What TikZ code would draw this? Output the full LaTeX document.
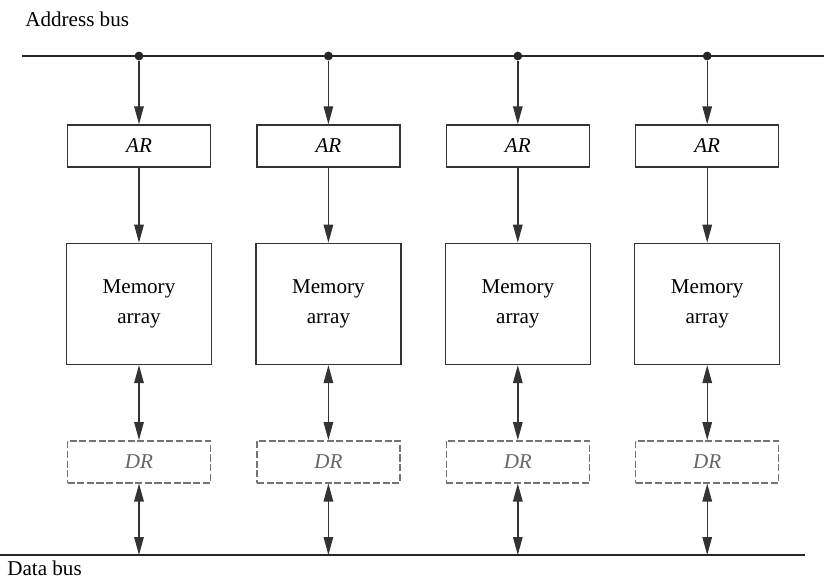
\documentclass[tikz,border=0pt]{standalone}
\usepackage{fontspec}
\setmainfont{Liberation Serif}
\usetikzlibrary{positioning,arrows.meta}

\begin{document}
\begin{tikzpicture}[
    font=\fontsize{12}{17}\selectfont,
    node distance=1.5cm and 0.9cm,
    regbox/.style={
        draw=black!80,
        line width=0.8pt,
        minimum width=2.86cm,
        minimum height=0.84cm,
        inner sep=0pt,
        font=\fontsize{12}{14}\selectfont\itshape
    },
    drbox/.style={
        regbox,
        draw=black!55,
        dash pattern=on 4pt off 1.5pt,
        text=black!60
    },
    membox/.style={
        draw=black!80,
        line width=0.8pt,
        align=center,
        minimum width=2.9cm,
        minimum height=2.42cm
    },
    junction/.style={circle, fill=black!85, inner sep=0pt, minimum size=5pt},
    arrow/.style={-{Triangle[length=3.6mm,width=1.9mm]}, line width=0.8pt, draw=black!80},
    darrow/.style={{Triangle[length=3.6mm,width=1.9mm]}-{Triangle[length=3.6mm,width=1.9mm]}, line width=0.8pt, draw=black!80},
    bus/.style={line width=1pt, draw=black!85}
]
\useasboundingbox (0,0) rectangle (16.48,-11.58);

\coordinate (abusW) at (0.44,-1.12);
\coordinate (abusE) at (16.48,-1.12);
\coordinate (dbusW) at (0,-11.1);
\coordinate (dbusE) at (16.1,-11.1);

\node[anchor=west, inner sep=0pt] (abuslabel) at (0.50,-0.38) {Address bus};
\node[anchor=west, inner sep=0pt] (dbuslabel) at (0.14,-11.36) {Data bus};

\node[regbox] (ar1) at (2.78,-2.92) {AR};
\node[regbox, right=0.9cm of ar1] (ar2) {AR};
\node[regbox, right=0.9cm of ar2] (ar3) {AR};
\node[regbox, right=0.9cm of ar3] (ar4) {AR};

\node[membox, below=of ar1] (mem1) {Memory\\array};
\node[membox, below=of ar2] (mem2) {Memory\\array};
\node[membox, below=of ar3] (mem3) {Memory\\array};
\node[membox, below=of ar4] (mem4) {Memory\\array};

\node[drbox, below=of mem1] (dr1) {DR};
\node[drbox, below=of mem2] (dr2) {DR};
\node[drbox, below=of mem3] (dr3) {DR};
\node[drbox, below=of mem4] (dr4) {DR};

% buses
\draw[bus] (abusW) -- (abusE);
\draw[bus] (dbusW) -- (dbusE);

\node[junction] (j1) at (ar1 |- abusW) {};
\node[junction] (j2) at (ar2 |- abusW) {};
\node[junction] (j3) at (ar3 |- abusW) {};
\node[junction] (j4) at (ar4 |- abusW) {};

\coordinate (t1) at (dr1 |- dbusW);
\coordinate (t2) at (dr2 |- dbusW);
\coordinate (t3) at (dr3 |- dbusW);
\coordinate (t4) at (dr4 |- dbusW);

\draw[arrow] (j1) -- (ar1);
\draw[arrow] (j2) -- (ar2);
\draw[arrow] (j3) -- (ar3);
\draw[arrow] (j4) -- (ar4);

\draw[arrow] (ar1) -- (mem1);
\draw[arrow] (ar2) -- (mem2);
\draw[arrow] (ar3) -- (mem3);
\draw[arrow] (ar4) -- (mem4);

\draw[darrow] (mem1) -- (dr1);
\draw[darrow] (mem2) -- (dr2);
\draw[darrow] (mem3) -- (dr3);
\draw[darrow] (mem4) -- (dr4);

\draw[darrow] (dr1) -- (t1);
\draw[darrow] (dr2) -- (t2);
\draw[darrow] (dr3) -- (t3);
\draw[darrow] (dr4) -- (t4);

\end{tikzpicture}
\end{document}
